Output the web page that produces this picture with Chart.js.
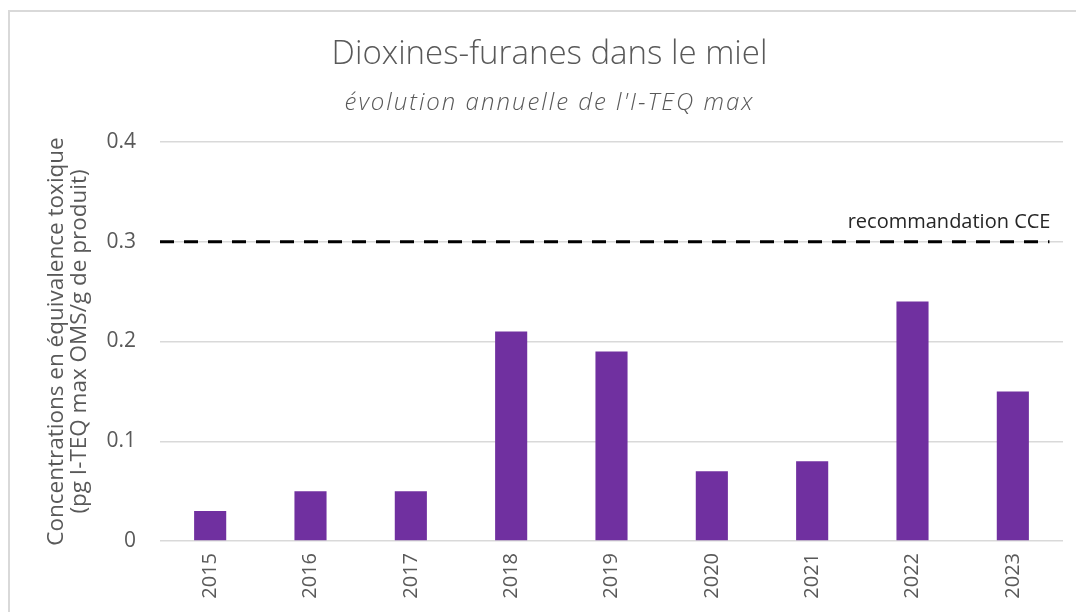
<!DOCTYPE html>
<html>
<head>
<meta charset="utf-8">
<script src="https://cdn.jsdelivr.net/npm/chart.js@4/dist/chart.umd.min.js"></script>
<style>
  html, body { margin: 0; padding: 0; background: #ffffff; }
  #frame { position: absolute; left: 8px; top: 10px; width: 1100px; height: 700px;
           border-top: 2px solid #d9d9d9; border-left: 2px solid #d9d9d9; box-sizing: border-box; }
  #c { position: absolute; left: 0; top: 0; }
</style>
</head>
<body>
<div id="frame"></div>
<canvas id="c" width="1076" height="612"></canvas>
<script>
const years = ['2015', '2016', '2017', '2018', '2019', '2020', '2021', '2022', '2023'];
const iteqMax = [0.03, 0.05, 0.05, 0.21, 0.19, 0.07, 0.08, 0.24, 0.15];
const threshold = 0.3;
const thresholdLabel = 'recommandation CCE';
const yTicks = [0, 0.1, 0.2, 0.3, 0.4];
const titleText = 'Dioxines-furanes dans le miel';
const subtitleText = "évolution annuelle de l'I-TEQ max";
const yTitleLines = ['Concentrations en équivalence toxique', '(pg I-TEQ max OMS/g de produit)'];

const FONT = "'Open Sans', 'Noto Sans', sans-serif";
const GREY = '#595959';
const LINE_END_FRACTION = 0.985;   // style: where the dashed reference line stops
const SUBTITLE_SPACING = '2px';

// Dashed reference line (value read through the y scale) + its label
const thresholdPlugin = {
  id: 'thresholdLine',
  afterDatasetsDraw(chart) {
    const { ctx, chartArea } = chart;
    const y = chart.scales.y.getPixelForValue(threshold);
    const x0 = chartArea.left;
    const x1 = chartArea.left + (chartArea.right - chartArea.left) * LINE_END_FRACTION;
    ctx.save();
    ctx.strokeStyle = '#000000';
    ctx.lineWidth = 3;
    ctx.setLineDash([14, 10]);
    ctx.beginPath();
    ctx.moveTo(x0, y);
    ctx.lineTo(x1, y);
    ctx.stroke();
    ctx.setLineDash([]);
    ctx.font = "20px " + FONT;
    ctx.fillStyle = '#262626';
    ctx.textAlign = 'right';
    ctx.textBaseline = 'alphabetic';
    ctx.fillText(thresholdLabel, x1 + 1, y - 14);
    ctx.restore();
  }
};

// Slightly wider letter spacing for the italic subtitle
const subtitleSpacingPlugin = {
  id: 'subtitleSpacing',
  beforeDraw(chart) {
    chart.boxes.forEach(box => {
      if (box && box.options && box.options.text === subtitleText && !box._spacingPatched) {
        const orig = box.draw.bind(box);
        box.draw = function (area) {
          const ctx = this.ctx;
          ctx.save();
          ctx.letterSpacing = SUBTITLE_SPACING;
          orig(area);
          ctx.restore();
        };
        box._spacingPatched = true;
      }
    });
  }
};

new Chart(document.getElementById('c'), {
  type: 'bar',
  data: {
    labels: years,
    datasets: [
      {
        label: 'I-TEQ max',
        data: iteqMax,
        backgroundColor: '#7030A0',
        borderWidth: 0,
        barPercentage: 0.4,
        categoryPercentage: 0.8
      }
    ]
  },
  plugins: [thresholdPlugin, subtitleSpacingPlugin],
  options: {
    responsive: false,
    devicePixelRatio: 1,
    animation: false,
    layout: { padding: { left: 36, right: 13, top: 0, bottom: 0 } },
    plugins: {
      legend: { display: false },
      tooltip: { enabled: false },
      title: {
        display: true,
        text: titleText,
        color: GREY,
        font: { family: FONT, size: 33, weight: '300', lineHeight: 1.2 },
        padding: { top: 35, bottom: 0 }
      },
      subtitle: {
        display: true,
        text: subtitleText,
        color: GREY,
        font: { family: FONT, size: 24, style: 'italic', weight: '300', lineHeight: 1.2 },
        padding: { top: 14, bottom: 24.6 }
      }
    },
    scales: {
      x: {
        type: 'category',
        offset: true,
        grid: { display: false, drawTicks: false },
        border: { display: false },
        ticks: {
          color: GREY,
          font: { family: FONT, size: 20 },
          minRotation: 90,
          maxRotation: 90,
          padding: 12,
          autoSkip: false
        },
        afterFit(scale) { scale.height = 71; }
      },
      y: {
        type: 'linear',
        min: 0,
        max: 0.4,
        afterBuildTicks(scale) { scale.ticks = yTicks.map(v => ({ value: v })); },
        grid: { color: '#d9d9d9', lineWidth: 1.5, drawTicks: false },
        border: { display: false },
        ticks: {
          color: GREY,
          font: { family: FONT, size: 21 },
          padding: 24,
          callback: (v) => String(v)
        },
        title: {
          display: true,
          text: yTitleLines,
          color: GREY,
          font: { family: FONT, size: 22.5, lineHeight: 1.03 },
          padding: { top: 9, bottom: 0 }
        },
        afterFit(scale) { scale.width = 124; }
      }
    }
  }
});
</script>
</body>
</html>
